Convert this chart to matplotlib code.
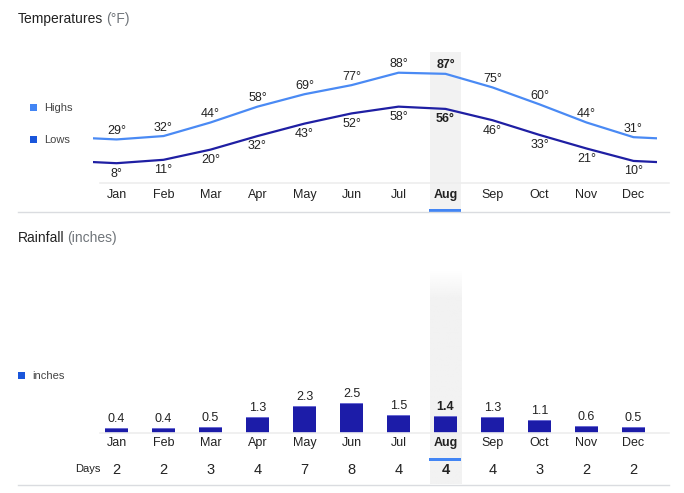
import numpy as np
import matplotlib
matplotlib.use('Agg')
import matplotlib.pyplot as plt
from matplotlib.patches import Rectangle
from matplotlib.lines import Line2D

plt.rcParams['font.family'] = ['Liberation Sans', 'DejaVu Sans']

months = ['Jan', 'Feb', 'Mar', 'Apr', 'May', 'Jun', 'Jul', 'Aug', 'Sep', 'Oct', 'Nov', 'Dec']
highs = [29, 32, 44, 58, 69, 77, 88, 87, 75, 60, 44, 31]
lows = [8, 11, 20, 32, 43, 52, 58, 56, 46, 33, 21, 10]
rain = [0.4, 0.4, 0.5, 1.3, 2.3, 2.5, 1.5, 1.4, 1.3, 1.1, 0.6, 0.5]
rain_days = [2, 2, 3, 4, 7, 8, 4, 4, 4, 3, 2, 2]
current = 7  # Aug

W, H = 684, 493
fig = plt.figure(figsize=(W / 100, H / 100), dpi=100)

HIGH_C = '#4a8af4'
LOW_C = '#1f1fa3'
BAR_C = '#1c1ca8'
BAND_C = '#f2f2f2'
ACCENT = '#4285f4'


def fx(x):
    return x / W


def fy(y):
    return 1 - y / H


def hline(y, x0, x1, color, lw=1.0):
    fig.add_artist(Line2D([fx(x0), fx(x1)], [fy(y), fy(y)], color=color, lw=lw,
                          transform=fig.transFigure))


def square(x, y, color, s=7):
    fig.add_artist(Rectangle((fx(x), fy(y + s)), s / W, s / H, color=color,
                             transform=fig.transFigure, lw=0))


def title(x, y, main, unit):
    t = fig.text(fx(x), fy(y), main, fontsize=10, color='#222222', va='center')
    fig.canvas.draw()
    bb = t.get_window_extent()
    fig.text(bb.x1 / W + 3 / W, fy(y), unit, fontsize=10, color='#70757a', va='center')


x = np.arange(12)
half = 16 / 47  # half width of highlight band in month units
ppd = 1.132  # pixels per degree

# ---------------- temperatures ----------------
ax1 = fig.add_axes([fx(93), fy(183), 564 / W, 131 / H])
ax1.set_xlim(-0.5, 11.5)
ax1.set_ylim(-9.5, 106.3)
ax1.axis('off')

# wrap the year so the lines continue past Jan and Dec
xw = np.arange(-1, 13)
hw = [highs[-1]] + highs + [highs[0]]
lw_ = [lows[-1]] + lows + [lows[0]]
ax1.plot(xw, hw, color=HIGH_C, lw=1.6, zorder=3)
ax1.plot(xw, lw_, color=LOW_C, lw=1.6, zorder=3)
ax1.axvspan(current - half, current + half, ymin=-28 / 131, ymax=1, color=BAND_C,
            lw=0, zorder=0, clip_on=False)

for i in range(12):
    bold = 'bold' if i == current else 'normal'
    ax1.annotate(f'{highs[i]}°', (i, highs[i]), xytext=(0, 6), textcoords='offset points',
                 ha='center', va='center', fontsize=9, color='#222222', fontweight=bold)
    ax1.annotate(f'{lows[i]}°', (i, lows[i]), xytext=(0, -7.5), textcoords='offset points',
                 ha='center', va='center', fontsize=9, color='#222222', fontweight=bold)
    ax1.text(i, -9.5 - 12 / ppd, months[i], ha='center', va='center',
             fontsize=9, color='#222222', fontweight=bold)

hline(183, 100, 669, '#eeeeee', 1.2)
hline(211.5, 18, 669, '#dadce0', 1.0)
fig.add_artist(Rectangle((fx(429), fy(212)), 32 / W, 3 / H, color=ACCENT, lw=0,
                         transform=fig.transFigure))

title(18, 19, 'Temperatures', '(°F)')
square(30, 104, ACCENT)
fig.text(fx(44), fy(108), 'Highs', fontsize=8, color='#444444', va='center')
square(30, 136, '#1a56db')
fig.text(fx(44), fy(140), 'Lows', fontsize=8, color='#444444', va='center')

# ---------------- rainfall ----------------
ax2 = fig.add_axes([fx(93), fy(432.7), 564 / W, 162.7 / H])
ax2.axis('off')
ppi = 11.76  # pixels per inch of rain
ytop = 162.7 / ppi
ybot = -51.3 / ppi

# highlight band, fading in at the top
grad = np.ones((200, 1, 4))
grad[..., :3] = 242 / 255
alpha = np.ones(200)
n_fade = int(200 * 30 / 214)
alpha[:n_fade] = np.linspace(0, 1, n_fade)
grad[:, 0, 3] = alpha
ax2.imshow(grad, extent=(current - half, current + half, ybot, ytop), origin='upper',
           aspect='auto', zorder=0, clip_on=False, interpolation='bilinear')

ax2.bar(x, rain, width=0.51, color=BAR_C, zorder=2)
ax2.bar(x, [0.09] * 12, bottom=np.array(rain) - 0.09, width=0.51, color='#6a6ad2', zorder=2)
ax2.set_xlim(-0.5, 11.5)
ax2.set_ylim(0, ytop)

for i in range(12):
    bold = 'bold' if i == current else 'normal'
    ax2.annotate(f'{rain[i]}', (i, rain[i]), xytext=(0, 6.5), textcoords='offset points',
                 ha='center', va='center', fontsize=9, color='#222222', fontweight=bold)
    ax2.text(i, -10.5 / ppi, months[i], ha='center', va='center', fontsize=9,
             color='#222222', fontweight=bold)
    ax2.text(i, -37 / ppi, str(rain_days[i]), ha='center', va='center', fontsize=10.5,
             color='#222222', fontweight=bold)

fig.text(fx(100), fy(469), 'Days', fontsize=8, color='#222222', va='center', ha='right')
hline(432.7, 100, 669, '#eeeeee', 1.2)
hline(484.5, 18, 669, '#dadce0', 1.0)
fig.add_artist(Rectangle((fx(429), fy(461)), 32 / W, 3 / H, color=ACCENT, lw=0,
                         transform=fig.transFigure))

title(18, 238, 'Rainfall', '(inches)')
square(18, 372, '#1a56db')
fig.text(fx(32), fy(376), 'inches', fontsize=8, color='#444444', va='center')

fig.savefig('out.png', dpi=100)
